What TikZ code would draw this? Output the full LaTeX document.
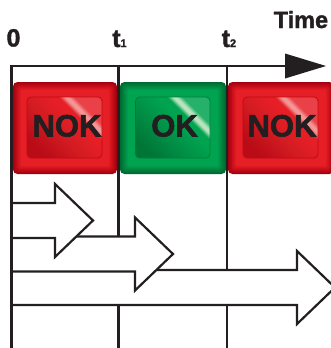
\documentclass[tikz,border=0pt]{standalone}
\usepackage{fontspec}
\setmainfont{Liberation Sans}
\newfontfamily\heavyfont{Liberation Sans Bold}[FakeBold=1.5]
\newfontfamily\heavierfont{Liberation Sans Bold}[FakeBold=2]
\definecolor{ink}{RGB}{35,31,32}
\definecolor{redge}{RGB}{165,0,14}
\definecolor{rmid}{RGB}{230,30,38}
\definecolor{rdk}{RGB}{185,12,22}
\definecolor{rhi}{RGB}{242,150,150}
\definecolor{gedge}{RGB}{0,105,48}
\definecolor{gmid}{RGB}{0,163,80}
\definecolor{gdk}{RGB}{0,118,54}
\definecolor{ghi}{RGB}{185,228,190}
\definecolor{rbord}{RGB}{190,12,22}
\definecolor{gbord}{RGB}{0,125,58}
\pgfdeclarehorizontalshading{redin}{100bp}{color(0bp)=(rdk); color(25bp)=(rdk); color(45bp)=(rmid!92!black); color(58bp)=(rmid); color(63bp)=(rmid); color(66bp)=(rhi); color(68bp)=(rhi); color(71bp)=(rmid!85!white); color(100bp)=(rmid!85!white)}
\pgfdeclarehorizontalshading{greenin}{100bp}{color(0bp)=(gdk); color(25bp)=(gdk); color(45bp)=(gmid!90!black); color(58bp)=(gmid); color(63bp)=(gmid); color(66bp)=(ghi); color(68bp)=(ghi); color(71bp)=(gmid!85!white); color(100bp)=(gmid!85!white)}
\tikzset{
  line/.style={draw=ink, line width=2.2pt},
  arrowshape/.style={draw=ink, fill=white, line width=2.2pt, line join=miter},
  lbl/.style={font=\fontsize{25}{25}\heavyfont, text=ink, inner sep=0pt},
  timelbl/.style={font=\fontsize{23.5}{24}\heavyfont, text=ink, inner sep=0pt},
  boxtext/.style={font=\fontsize{31}{31}\heavierfont, text=ink, inner sep=0pt, anchor=base},
}
\newcommand{\bevelbox}[6]{%
  \foreach \i in {0,...,8}{%
    \pgfmathsetmacro\pp{\i/8*100}%
    \pgfmathsetmacro\rr{max(4.5-0.4*\i,1)}%
    \fill[#6!\pp!#5, rounded corners=\rr pt] ({#1+\i*1.0},{#2+\i*1.0}) rectangle ({#3-\i*1.0},{#4-\i*1.0});
  }%
}
\newcommand{\subnum}[1]{{\fontsize{11}{11}\heavyfont #1}}
\begin{document}
\begin{tikzpicture}[x=1pt,y=-1pt]
\useasboundingbox (0,0) rectangle (331,348);
\clip (0,0) rectangle (331,348);
% labels
\node[lbl, anchor=base] (zero) at (13.5,46.5) {0};
\node[lbl, anchor=base west] (tone) at (112,47) {t\subnum{1}};
\node[lbl, anchor=base west] (ttwo) at (221.5,47) {t\subnum{2}};
\node[timelbl, anchor=base west] (time) at (273.5,28) {Time};
% axis
\coordinate (a0) at (11.5,66);
\coordinate (a1) at (118.5,66);
\coordinate (a2) at (227,66);
\coordinate (ahead) at (285,66);
\coordinate (atip) at (326,66);
\coordinate (b0) at (11.5,348);
\coordinate (b1) at (118.5,348);
\coordinate (b2) at (227,348);
\draw[line] ([xshift=-1.1pt]a0) -- (ahead);
\fill[ink] (285,53.5) -- (atip) -- (285,78.5) -- cycle;
\draw[line] ([yshift=1.1pt]a0) -- (b0);
\draw[line] ([yshift=1.1pt]a1) -- (b1);
\draw[line] ([yshift=1.1pt]a2) -- (b2);
% boxes
\bevelbox{13}{82}{117}{174}{redge}{rmid}
\bevelbox{120}{82}{226}{174}{gedge}{gmid}
\bevelbox{228}{82}{334}{174}{redge}{rmid}
\shade[shading=redin, shading angle=45, rounded corners=4pt] (27,97) rectangle (102,158);
\draw[rbord, line width=0.8pt, rounded corners=4pt] (27,97) rectangle (102,158);
\shade[shading=greenin, shading angle=45, rounded corners=4pt] (135.5,97) rectangle (210,158);
\draw[gbord, line width=0.8pt, rounded corners=4pt] (135.5,97) rectangle (210,158);
\shade[shading=redin, shading angle=45, rounded corners=4pt] (243,97) rectangle (318,158);
\draw[rbord, line width=0.8pt, rounded corners=4pt] (243,97) rectangle (318,158);
\node[boxtext] (nok1) at (67,136.5) {NOK};
\node[boxtext] (ok) at (174.5,136.5) {OK};
\node[boxtext] (nok2) at (282,136.5) {NOK};
% arrows (back to front)
\draw[arrowshape] (11.5,270) -- (297,270) -- (297,251) -- (335,287.5) -- (297,324) -- (297,305) -- (11.5,305) -- cycle;
\draw[arrowshape] (11.5,236.5) -- (135,236.5) -- (135,217.5) -- (173,254) -- (135,290.5) -- (135,271.5) -- (11.5,271.5) -- cycle;
\draw[arrowshape] (11.5,203) -- (55,203) -- (55,184) -- (93,220.5) -- (55,257) -- (55,238) -- (11.5,238) -- cycle;
\draw[line] (11.5,180) -- (11.5,330);
\end{tikzpicture}
\end{document}
